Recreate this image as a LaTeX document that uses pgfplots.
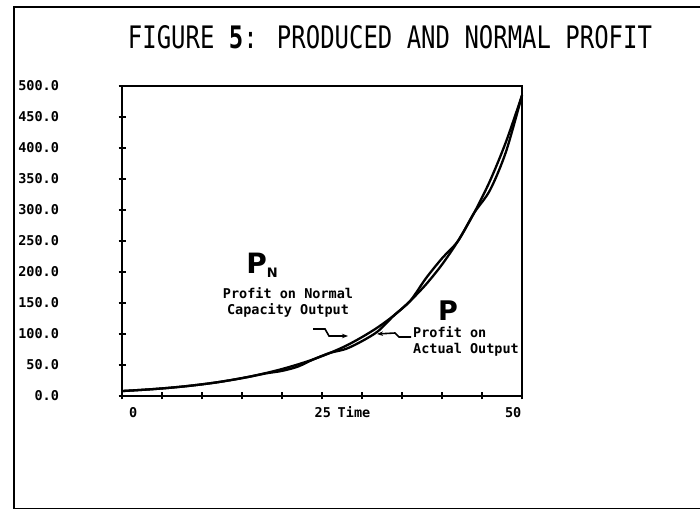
\documentclass[border=0pt]{standalone}
\usepackage{pgfplots}
\pgfplotsset{compat=1.18}
\usetikzlibrary{arrows.meta}
\usepackage{fontspec}
\usepackage{graphicx}
\newfontfamily\mono{DejaVu Sans Mono}
\newfontfamily\dsans{DejaVu Sans}
\newcommand\labfont{\mono\bfseries\fontsize{13.5}{15}\selectfont}
\begin{document}
\begin{tikzpicture}[x=1pt,y=1pt]
\path[use as bounding box] (0pt,0pt) rectangle (700pt,513pt);
\draw[line width=1.6pt] (700pt,506pt) -- (14pt,506pt) -- (14pt,4.5pt) -- (700pt,4.5pt);
\begin{axis}[
  at={(122pt,117pt)}, anchor=south west, scale only axis,
  width=400pt, height=310pt,
  xmin=0, xmax=50, ymin=0, ymax=500,
  axis line style={line width=2.2pt},
  xtick={0,5,...,50}, ytick={0,50,...,500},
  xticklabels={},
  tick pos=left, tick align=center, major tick length=7pt,
  tick style={line width=2pt, black},
  yticklabel style={/pgf/number format/.cd, fixed, fixed zerofill, precision=1, assume math mode=true, /tikz/.cd, font=\labfont, xshift=-56pt},
  clip=false,
]
% P_N : profit on normal capacity output
\addplot[black, line width=2.3pt, smooth] coordinates {
(0,8) (2,9.5) (4,11.2) (6,13.3) (8,15.8) (10,18.8) (12,22.3) (14,26.5) (16,31.3) (18,37) (20,43.5) (22,51) (24,59.5) (26,69.5) (28,81) (30,95) (32,111) (34,130) (36,153) (38,180) (40,212) (42,250) (44,295) (46,347) (48,410) (50,485)};
% P : profit on actual output
\addplot[black, line width=2.3pt, smooth] coordinates {
(0,8) (2,9.5) (4,11.2) (6,13.3) (8,15.8) (10,18.8) (12,22.3) (14,26.5) (16,31.3) (18,36.5) (20,40.5) (22,47.5) (24,59.5) (26,69.5) (28,76) (30,88.5) (32,104.5) (34,130) (36,153) (38,190) (40,222) (42,250) (44,295) (46,332) (48,394) (50,485)};
\node[font=\labfont] at (axis cs:1.4,-26) {0};
\node[font=\labfont] at (axis cs:25.1,-26) {25};
\node[font=\labfont] at (axis cs:29.0,-26) {Time};
\node[font=\labfont] at (axis cs:48.9,-26) {50};
\end{axis}
\node at (390pt,476pt) {\resizebox{524pt}{23pt}{\mono FIGURE {\bfseries 5}: PRODUCED AND NORMAL PROFIT}};
\node at (262pt,248pt) {\dsans\bfseries\fontsize{28}{28}\selectfont P\raisebox{-4pt}{\fontsize{13}{13}\selectfont N}};
\node[align=center, font=\labfont, inner sep=0pt] at (288pt,211pt) {Profit on Normal\\[1pt]Capacity Output};
\node[inner sep=0pt] at (448pt,202pt) {\dsans\bfseries\fontsize{27}{27}\selectfont P};
\node[align=left, font=\labfont, inner sep=0pt, anchor=west] at (413pt,172pt) {Profit on\\[1pt]Actual Output};
\draw[line width=1.6pt, -{Stealth[length=6pt]}] (313pt,184pt) -- (325pt,184pt) -- (329pt,177pt) -- (348pt,177pt);
\draw[line width=1.6pt, -{Stealth[length=6pt]}] (411pt,176pt) -- (399pt,176pt) -- (395pt,180pt) -- (377pt,179pt);
\end{tikzpicture}
\end{document}
